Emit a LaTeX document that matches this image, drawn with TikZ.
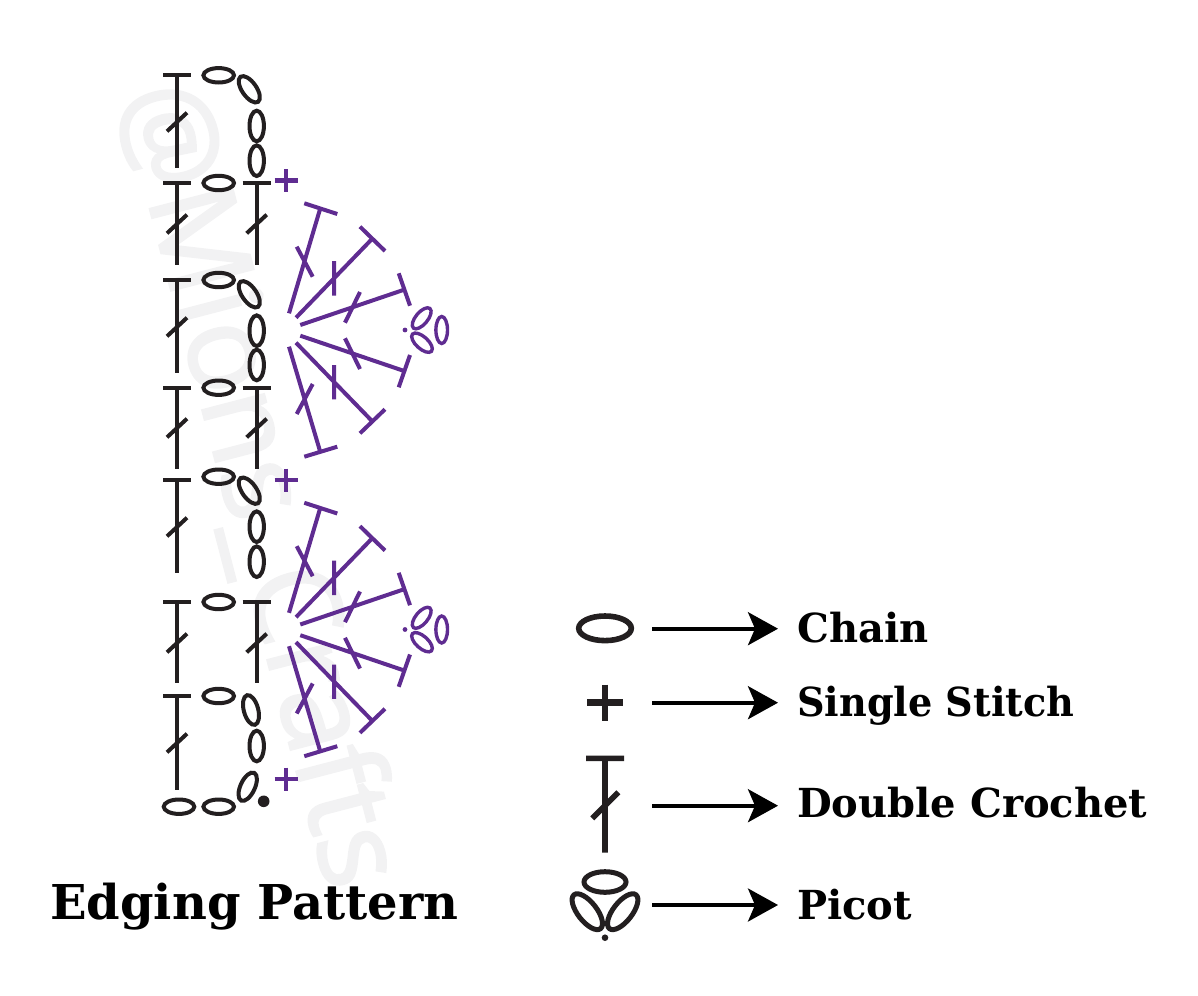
\documentclass[tikz,border=0pt]{standalone}
\usepackage{fontspec}
\usetikzlibrary{arrows.meta}
\newfontfamily\slabfont{DejaVu Serif Bold}
\newfontfamily\wmfont[FakeBold=2]{Open Sans}
\definecolor{ink}{HTML}{231F20}
\definecolor{yarn}{HTML}{5F2C91}
\definecolor{wm}{HTML}{F2F2F3}
\tikzset{
  blackst/.style={draw=ink,line width=4pt},
  purplest/.style={draw=yarn,line width=4pt},
  picotst/.style={draw=yarn,line width=3.4pt},
  legendst/.style={draw=ink,line width=5.6pt},
  legendarrow/.style={draw=black,line width=3.6pt,-{Stealth[length=30pt,width=33pt,inset=7pt]}},
  labeltext/.style={anchor=base west,inner sep=0pt,font=\slabfont\fontsize{40}{40}\selectfont,text=black},
}
% double crochet: x, top, bottom, slash centre y
\newcommand{\DCs}[4]{%
  \draw[blackst] (#1-14,#2) -- (#1+14,#2) (#1,#2) -- (#1,#3);
  \draw[blackst] (#1-10,#4+9.3) -- (#1+10,#4-9.3);}
% chain: x, y, rotation
\newcommand{\CHs}[3]{\draw[blackst,shift={(#1,#2)},rotate=#3] (0,0) ellipse [x radius=15.3pt,y radius=7.2pt];}
% single stitch
\newcommand{\SSs}[2]{\draw[draw=yarn,line width=4.6pt] (#1-11.5,#2) -- (#1+11.5,#2) (#1,#2-11.5) -- (#1,#2+11.5);}
% one spoke: start, end, bar a, bar b, cross a, cross b
\newcommand{\SPk}[6]{\draw[purplest] (#1) -- (#2) (#3) -- (#4) (#5) -- (#6);}
\newcommand{\FANs}[1]{%
\begin{scope}[shift={(0,#1)}]
  \SPk{289,313.3}{320,209.3}{304.3,203.3}{337.3,214}{296.7,246.7}{312.7,276.7}
  \SPk{296,317.7}{371,240}{360,226.7}{385,251}{334,261}{334,295.7}
  \SPk{300.3,325}{403.3,290}{398.7,273.3}{410,305.7}{360,292}{345,322.7}
  \SPk{300.3,335.7}{403.3,370.7}{410,355}{398.7,387.3}{345,338.3}{360,369}
  \SPk{296,342.7}{371,420}{385,409.3}{360,433.3}{334,365}{334,399.3}
  \SPk{289,346.7}{320,451}{337.3,446.7}{304.3,456.7}{312.7,384}{296.7,414}
  \fill[yarn] (405,330) circle [radius=2.4pt];
  \draw[picotst,shift={(421.7,318.3)},rotate=50] (0,0) ellipse [x radius=12.8pt,y radius=6pt];
  \draw[picotst,shift={(422,342.7)},rotate=-42] (0,0) ellipse [x radius=12.8pt,y radius=6pt];
  \draw[picotst,shift={(441.7,330)},rotate=90] (0,0) ellipse [x radius=13.5pt,y radius=5.8pt];
\end{scope}}
\begin{document}
\begin{tikzpicture}[x=1pt,y=-1pt]
\useasboundingbox (0,0) rectangle (1198,995);
% watermark
\node (watermark) [anchor=base west,inner sep=0pt,rotate=-75.4,text=wm,font=\wmfont\fontsize{119}{119}\selectfont] at (120,94) {@Mions\_Crafts};
% left column
\DCs{177}{75}{168}{122}
\DCs{177}{183}{265}{224}
\DCs{177}{280}{373}{327}
\DCs{177}{387.5}{469}{428}
\DCs{177}{480}{573}{527}
\DCs{177}{602}{683}{643}
\DCs{177}{696}{790}{743}
% right column
\DCs{256.7}{183}{265}{224}
\DCs{256.7}{387.5}{469}{428}
\DCs{256.7}{602}{683}{643}
% horizontal chains
\CHs{218.7}{75.3}{0}
\CHs{218.7}{183}{0}
\CHs{218.7}{280}{0}
\CHs{218.7}{387.7}{0}
\CHs{218.7}{476.7}{0}
\CHs{218.7}{602}{0}
\CHs{218.7}{696}{0}
\CHs{218.7}{806.7}{0}
\CHs{179}{806.7}{0}
% turning chains
\CHs{249.3}{89.3}{-55}
\CHs{256.7}{126}{90}
\CHs{256.7}{160.7}{90}
\CHs{249.3}{294.3}{-55}
\CHs{256.7}{330.7}{90}
\CHs{256.7}{365}{90}
\CHs{249.3}{490.7}{-55}
\CHs{256.7}{526.7}{90}
\CHs{256.7}{561.7}{90}
\CHs{251}{710}{-75}
\CHs{256.7}{746}{90}
\CHs{247.7}{786.7}{65}
\fill[ink] (263.7,801.3) circle [radius=5.8pt];
% single stitches
\SSs{286}{180.7}
\SSs{286}{480}
\SSs{286}{779}
% fans
\FANs{0}
\FANs{299.5}
% legend symbols
\draw[legendst,shift={(605,628.3)}] (0,0) ellipse [x radius=26.3pt,y radius=12.3pt];
\draw[draw=ink,line width=6.8pt] (587,702.7) -- (623,702.7) (605,684.7) -- (605,720.7);
\draw[legendst] (586,758.3) -- (624,758.3) (605,758.3) -- (605,852.7) (592.3,818.3) -- (618.3,792.3);
\draw[draw=ink,line width=5pt,shift={(605,882)}] (0,0) ellipse [x radius=21pt,y radius=10.3pt];
\draw[draw=ink,line width=5pt,shift={(587.3,911.7)},rotate=-52] (0,0) ellipse [x radius=21.5pt,y radius=9.5pt];
\draw[draw=ink,line width=5pt,shift={(622.7,911.7)},rotate=52] (0,0) ellipse [x radius=21.5pt,y radius=9.5pt];
\fill[ink] (605,937.7) circle [radius=3.3pt];
% legend arrows
\coordinate (a1s) at (652,628.7); \coordinate (a1e) at (778,628.7);
\coordinate (a2s) at (652,702.7); \coordinate (a2e) at (778,702.7);
\coordinate (a3s) at (652,805.7); \coordinate (a3e) at (778,805.7);
\coordinate (a4s) at (652,905);   \coordinate (a4e) at (778,905);
\draw[legendarrow] (a1s) -- (a1e);
\draw[legendarrow] (a2s) -- (a2e);
\draw[legendarrow] (a3s) -- (a3e);
\draw[legendarrow] (a4s) -- (a4e);
% legend text
\node (chain) [labeltext] at (797,642.7) {Chain};
\node (single) [labeltext,xscale=0.955] at (797,716.7) {Single Stitch};
\node (double) [labeltext] at (797,817) {Double Crochet};
\node (picot) [labeltext] at (797,919.3) {Picot};
\node (title) [anchor=base west,inner sep=0pt,font=\slabfont\fontsize{48}{48}\selectfont,text=black] at (50,919.5) {Edging Pattern};
\end{tikzpicture}
\end{document}
